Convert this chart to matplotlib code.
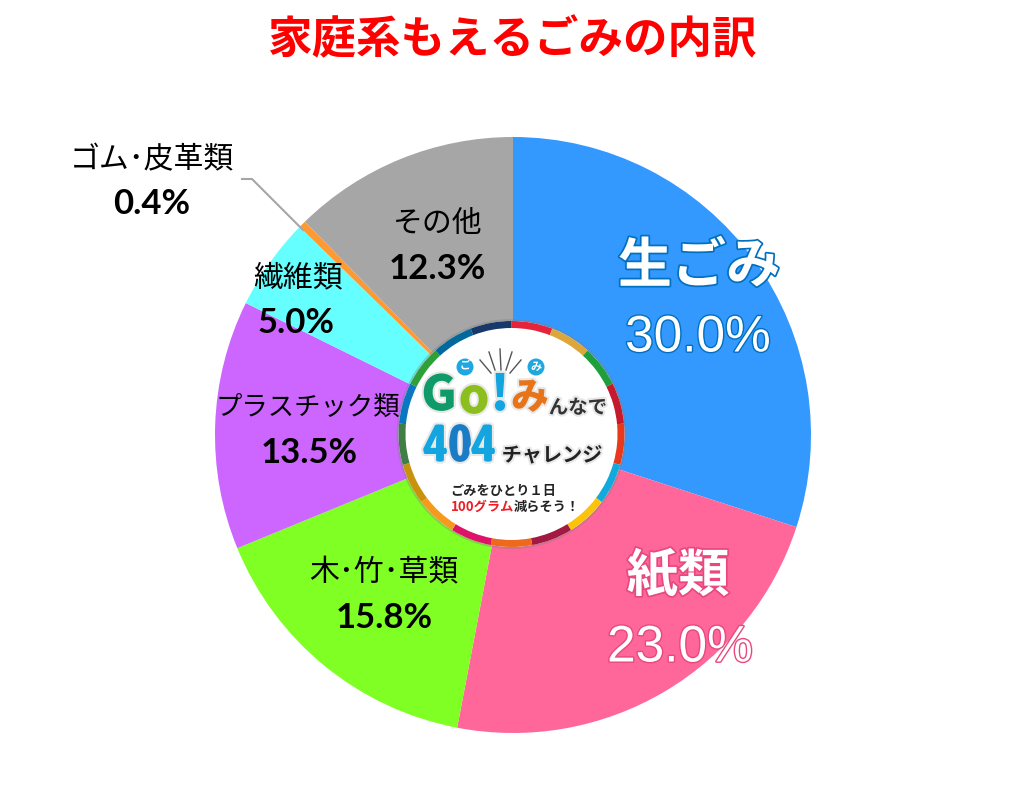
import matplotlib
matplotlib.use("Agg")
import matplotlib.pyplot as plt
import matplotlib.patheffects as pe
from matplotlib.patches import Circle, Wedge

plt.rcParams['font.family'] = ['Noto Sans CJK JP', 'DejaVu Sans']

# データ
categories = ['生ごみ', '紙類', '木･竹･草類', 'プラスチック類', '繊維類', 'ゴム･皮革類', 'その他']
values = [30.0, 23.0, 15.8, 13.5, 5.0, 0.4, 12.3]
colors = ['#3399ff', '#ff6699', '#7fff24', '#cc66ff', '#66ffff', '#ff9933', '#a6a6a6']
title = '家庭系もえるごみの内訳'
ring_colors = ['#e5243b', '#dda63a', '#1f9e3c', '#c5192d', '#e8391d', '#12a9dc',
               '#fcc30b', '#a21942', '#ed6a1c', '#dd1367', '#f59a1c', '#c8920c',
               '#3f7e44', '#0a77c0', '#2f9f3a', '#00689d', '#19386a']

W, H = 1029, 800
cx, cy, r = 513, 435, 298

fig = plt.figure(figsize=(W / 100, H / 100), dpi=100)

# 円グラフ本体
ax = fig.add_axes([(cx - r) / W, (H - cy - r) / H, 2 * r / W, 2 * r / H])
ax.pie(values, colors=colors, startangle=90, counterclock=False, radius=1)
ax.set_xlim(-1, 1)
ax.set_ylim(-1, 1)

# 上に重ねるピクセル座標の軸
ov = fig.add_axes([0, 0, 1, 1], facecolor='none')
ov.set_xlim(0, W)
ov.set_ylim(H, 0)
ov.axis('off')

ov.text(513, 40, title, color='#ff0000', fontsize=32, fontweight='bold', ha='center', va='center')

# ラベル (小さい区分)
small = {2: (384, 573, 384, 618, 21.5), 3: (308, 407, 309, 453, 19), 4: (298, 278, 296, 323, 21.5),
         5: (152, 160, 152, 204, 21.5), 6: (438, 224, 437, 269, 21.5)}
for i, (x1, y1, x2, y2, fs) in small.items():
    ov.text(x1, y1, categories[i], fontsize=fs, color='black', ha='center', va='center')
    ov.text(x2, y2, f'{values[i]:.1f}%', fontsize=25, fontweight='bold', color='black',
            family=['Lato', 'DejaVu Sans'], ha='center', va='center')

# 引き出し線
ov.plot([242, 252, 303], [179, 179, 230], color='#a6a6a6', lw=1.5)

# 大きい区分 (白抜き)
big = {0: (699, 267, 698, 338, '#0070c0'), 1: (678, 576, 680, 648, '#e8487f')}
for i, (x1, y1, x2, y2, edge) in big.items():
    ov.text(x1, y1, categories[i], fontsize=39 if i == 0 else 37, fontweight='bold', color='white',
            ha='center', va='center', path_effects=[pe.withStroke(linewidth=2.5, foreground=edge)])
    ov.text(x2, y2, f'{values[i]:.1f}%', fontsize=37, color='white', family=['Liberation Sans', 'DejaVu Sans'],
            ha='center', va='center', path_effects=[pe.withStroke(linewidth=2, foreground=edge)])

# 中央のロゴ
lx, ly = 511.5, 434
ov.add_patch(Circle((lx, ly), 115, color='#808080', alpha=0.35, lw=0))
ov.add_patch(Circle((lx, ly), 113, color='white', lw=0))
step = 360 / len(ring_colors)
for i, c in enumerate(ring_colors):
    # y軸が反転しているので角度は時計回りになる
    ov.add_patch(Wedge((lx, ly), 113, -90 + i * step, -90 + (i + 1) * step, width=7, color=c, lw=0))

for x0, y0, x1, y1 in [(480, 360, 491, 373), (489, 352, 495, 370), (500, 349, 501, 370),
                       (512, 352, 506, 370), (521, 360, 510, 373)]:
    ov.plot([x0, x1], [y0, y1], color='#555555', lw=1)
for x, s in [(465, 'ご'), (536, 'み')]:
    ov.add_patch(Circle((x, 367), 8.5, color='#1fa8e0', lw=0))
    ov.text(x, 366.5, s, color='white', fontsize=8, fontweight='bold', ha='center', va='center')

halo = [pe.withStroke(linewidth=3, foreground='#e8e8e8')]
for x, y, s, c, fs in [(439, 396, 'G', '#0f9a6a', 35), (474, 399, 'o', '#8cbf1e', 35),
                       (500, 396, '!', '#12a5e0', 35), (530, 398, 'み', '#e8741a', 27)]:
    ov.text(x, y, s, color=c, fontsize=fs, fontweight='black', family=['Noto Sans CJK JP', 'DejaVu Sans'],
            ha='center', va='center', path_effects=halo)
ov.text(578, 408, 'んなで', color='#333333', fontsize=14, fontweight='bold', ha='center', va='center', path_effects=halo)

for x, s, c in [(436, '4', '#12a5e0'), (460, '0', '#1a7cc4'), (484, '4', '#12a5e0')]:
    ov.text(x, 447, s, color=c, fontsize=38, fontweight='bold', family=['Asap Condensed', 'Liberation Sans'],
            ha='center', va='center', path_effects=halo)
ov.text(552, 455, 'チャレンジ', color='#222222', fontsize=14.5, fontweight='bold', ha='center', va='center', path_effects=halo)

ov.text(503, 491, 'ごみをひとり１日', color='#222222', fontsize=9.5, fontweight='bold', ha='center', va='center')
ov.text(483, 507, '100グラム', color='#ee1c25', fontsize=9.5, fontweight='bold', ha='center', va='center')
ov.text(547, 507, '減らそう！', color='#222222', fontsize=9.5, fontweight='bold', ha='center', va='center')

fig.savefig('out.png', dpi=100, facecolor='white')
